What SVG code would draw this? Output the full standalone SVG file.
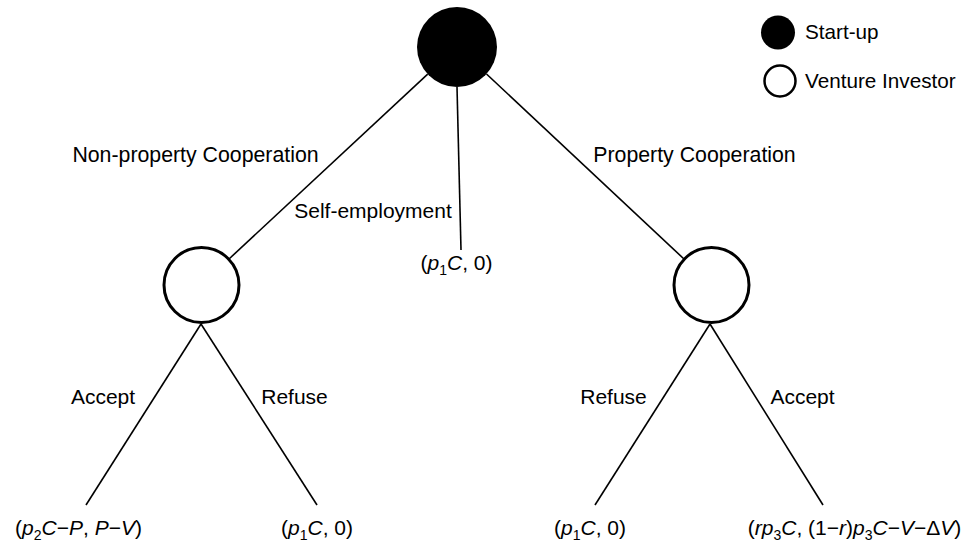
<svg xmlns="http://www.w3.org/2000/svg" width="977" height="544" viewBox="0 0 977 544">
<style>
text{font-family:"Liberation Sans",Arial,sans-serif;font-size:21px;fill:#000}
.c{text-anchor:middle}
.i{font-style:italic}
.s{font-size:14px}
.edge{stroke:#000;stroke-width:1.6;fill:none}
.vi{fill:#fff;stroke:#000;stroke-width:3}
.su{fill:#000}
</style>
<rect width="977" height="544" fill="#fff"/>
<g id="connectors">
<line class="edge" x1="427.7" y1="74.2" x2="229" y2="259"/>
<line class="edge" x1="457" y1="87" x2="461" y2="250"/>
<line class="edge" x1="486.5" y1="74" x2="684" y2="259"/>
<line class="edge" x1="201" y1="324" x2="86" y2="505"/>
<line class="edge" x1="201" y1="324" x2="317" y2="505"/>
<line class="edge" x1="710" y1="324" x2="595" y2="505"/>
<line class="edge" x1="710" y1="324" x2="823" y2="505"/>
</g>
<g id="root"><circle class="su" cx="457" cy="47" r="40"/></g>
<g id="vi-left"><circle class="vi" cx="201.5" cy="285" r="37.5"/></g>
<g id="vi-right"><circle class="vi" cx="711.5" cy="285" r="37.5"/></g>
<g id="labels">
<text class="c" x="195.5" y="162" style="font-size:21.3px">Non-property Cooperation</text>
<text class="c" x="694.5" y="162" style="font-size:21.3px">Property Cooperation</text>
<text class="c" x="373" y="218">Self-employment</text>
<text class="c" x="103" y="404">Accept</text>
<text class="c" x="294.5" y="404">Refuse</text>
<text class="c" x="613.5" y="404">Refuse</text>
<text class="c" x="802.5" y="404">Accept</text>
</g>
<g id="payoff-self"><text class="c" x="456.5" y="270">(<tspan class="i">p</tspan><tspan class="s" dy="5">1</tspan><tspan class="i" dy="-5">C</tspan>, 0)</text></g>
<g id="payoff-ll"><text class="c" x="78.5" y="535">(<tspan class="i">p</tspan><tspan class="s" dy="5">2</tspan><tspan class="i" dy="-5">C</tspan>−<tspan class="i">P</tspan>, <tspan class="i">P</tspan>−<tspan class="i">V</tspan>)</text></g>
<g id="payoff-lr"><text class="c" x="317" y="535">(<tspan class="i">p</tspan><tspan class="s" dy="5">1</tspan><tspan class="i" dy="-5">C</tspan>, 0)</text></g>
<g id="payoff-rl"><text class="c" x="590" y="535">(<tspan class="i">p</tspan><tspan class="s" dy="5">1</tspan><tspan class="i" dy="-5">C</tspan>, 0)</text></g>
<g id="payoff-rr"><text class="c" x="854.5" y="535">(<tspan class="i">rp</tspan><tspan class="s" dy="5">3</tspan><tspan class="i" dy="-5">C</tspan>, (1−<tspan class="i">r</tspan>)<tspan class="i">p</tspan><tspan class="s" dy="5">3</tspan><tspan class="i" dy="-5">C</tspan>−<tspan class="i">V</tspan>−Δ<tspan class="i">V</tspan>)</text></g>
<g id="legend">
<circle class="su" cx="778" cy="32.5" r="17"/>
<text x="805" y="39" style="font-size:20.7px">Start-up</text>
<circle class="vi" cx="780" cy="81" r="15.5" style="stroke-width:2.5"/>
<text x="805" y="88" style="font-size:20.7px">Venture Investor</text>
</g>
</svg>
